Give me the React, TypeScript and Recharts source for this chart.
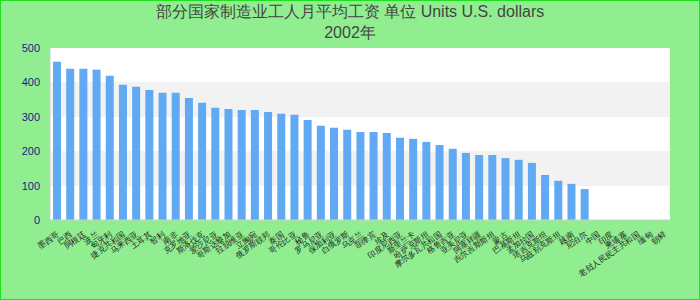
import React from 'react';
import { BarChart, Bar, XAxis, YAxis, CartesianGrid } from 'recharts';

// Category labels (country names), one per slot on the x axis
const countries = [
  '墨西哥', '巴西', '阿根廷', '波兰', '匈牙利', '捷克共和国', '马来西亚', '土耳其',
  '智利', '南非', '克罗地亚', '斯洛伐克', '爱沙尼亚', '哥斯达黎加', '拉脱维亚', '立陶宛',
  '俄罗斯联邦', '泰国', '哥伦比亚', '秘鲁', '罗马尼亚', '保加利亚', '白俄罗斯', '乌克兰',
  '菲律宾', '埃及', '印度尼西亚', '斯里兰卡', '哈萨克斯坦', '摩尔多瓦共和国', '格鲁吉亚', '亚美尼亚',
  '阿塞拜疆', '吉尔吉斯斯坦', '蒙古', '巴基斯坦', '孟加拉国', '塔吉克斯坦', '乌兹别克斯坦', '越南',
  '尼泊尔', '中国', '印度', '柬埔寨', '老挝人民民主共和国', '缅甸', '朝鲜',
];

// Values in U.S. dollars; the last slots have no data
const wages: (number | null)[] = [
  460, 440, 440, 437, 419, 393, 387, 378, 370, 370,
  355, 341, 326, 323, 320, 320, 314, 309, 306, 291,
  274, 268, 262, 256, 256, 253, 239, 236, 227, 218,
  207, 195, 189, 189, 180, 175, 166, 131, 114, 105,
  90, null, null, null, null, null, null,
];

const yTicks = [0, 100, 200, 300, 400, 500];

const titleLine1 = '部分国家制造业工人月平均工资 单位 Units U.S. dollars';
const titleLine2 = '2002年';

const chartData = countries.map((name, i) => ({ name, value: wages[i] }));

const App: React.FC = () => {
  return (
    <div
      style={{
        position: 'absolute',
        left: 0,
        top: 0,
        width: 700,
        height: 300,
        boxSizing: 'border-box',
        border: '1px solid #1ee01e',
        background: '#90ee90',
        fontFamily: '"Liberation Sans", Arial, sans-serif',
      }}
    >
      <BarChart
        width={698}
        height={298}
        data={chartData}
        margin={{ top: 47, right: 29, left: 9, bottom: 0 }}
      >
        <CartesianGrid
          vertical={false}
          stroke="none"
          fill="#ffffff"
          horizontalFill={['#ffffff', '#f2f2f2']}
          yAxisId="left"
        />
        <XAxis
          dataKey="name"
          interval={0}
          height={79}
          angle={-35}
          textAnchor="end"
          tickLine={false}
          tickSize={0}
          tickMargin={11}
          axisLine={{ stroke: '#cccccc' }}
          tick={{ fontSize: 8, fill: '#222222' }}
        />
        <XAxis
          xAxisId="top"
          orientation="top"
          dataKey="name"
          height={0}
          tick={false}
          tickLine={false}
          axisLine={{ stroke: '#cccccc' }}
        />
        <YAxis
          yAxisId="left"
          domain={[0, 500]}
          ticks={yTicks}
          width={40}
          tickLine={false}
          tickSize={0}
          tickMargin={10}
          axisLine={{ stroke: '#cccccc' }}
          tick={{ fontSize: 11, fill: '#1b1b8a' }}
        />
        <YAxis
          yAxisId="right"
          orientation="right"
          domain={[0, 500]}
          width={0}
          tick={false}
          tickLine={false}
          axisLine={{ stroke: '#cccccc' }}
        />
        <Bar
          dataKey="value"
          yAxisId="left"
          fill="#61a9f3"
          barSize={8}
          isAnimationActive={false}
        />
      </BarChart>
      <div
        style={{
          position: 'absolute',
          top: 0,
          left: 0,
          width: '100%',
          textAlign: 'center',
          fontSize: 16,
          lineHeight: '21px',
          color: '#444444',
          pointerEvents: 'none',
        }}
      >
        {titleLine1}
        <br />
        {titleLine2}
      </div>
    </div>
  );
};

export default App;
